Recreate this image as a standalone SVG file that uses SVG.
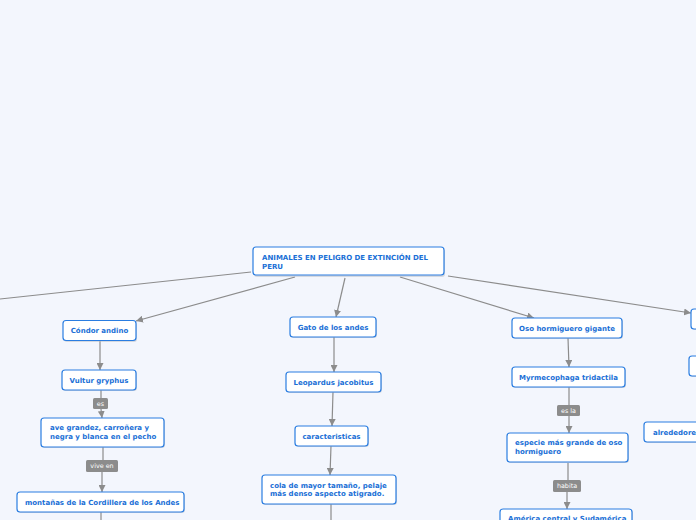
<svg xmlns="http://www.w3.org/2000/svg" width="696" height="520" viewBox="0 0 696 520">
<defs>
<style>
.bg{fill:#f3f6fd}
.n{fill:#fff;stroke:#2a7de1;stroke-width:1.2}
.sh{fill:#b8bcc4;opacity:0.5}
.t{font-family:"DejaVu Sans",Verdana,sans-serif;font-weight:bold;font-size:7px;fill:#1a6fd6}
.tc{text-anchor:middle}
.c{stroke:#8c8c8c;stroke-width:1.2;fill:none}
.ca{stroke:#8c8c8c;stroke-width:1.2;fill:none;marker-end:url(#ah)}
.lb{fill:#8c8c8c}
.lt{font-family:"DejaVu Sans",Verdana,sans-serif;font-size:6.4px;fill:#fff;text-anchor:middle}
</style>
<marker id="ah" viewBox="0 0 10 10" refX="10" refY="5" markerWidth="7" markerHeight="7" markerUnits="userSpaceOnUse" orient="auto">
<path d="M0,0 L10,5 L0,10 z" fill="#8c8c8c"/>
</marker>
</defs>
<rect class="bg" x="0" y="0" width="696" height="520"/>

<g id="connectors">
<line class="c" x1="251" y1="272" x2="0" y2="299"/>
<line class="ca" x1="295" y1="277" x2="136" y2="321"/>
<line class="ca" x1="345" y1="278" x2="336" y2="317"/>
<line class="ca" x1="400" y1="277" x2="534" y2="318"/>
<line class="ca" x1="448" y1="276" x2="691" y2="313"/>
<line class="ca" x1="100" y1="341" x2="100" y2="370"/>
<line class="c" x1="101" y1="390" x2="101" y2="398"/>
<line class="ca" x1="101" y1="409" x2="102" y2="418"/>
<line class="c" x1="103" y1="447" x2="103" y2="460"/>
<line class="ca" x1="102" y1="472" x2="102" y2="492"/>
<line class="c" x1="101" y1="512" x2="101" y2="520"/>
<line class="ca" x1="334" y1="337" x2="334" y2="372"/>
<line class="ca" x1="333" y1="392" x2="332" y2="426"/>
<line class="ca" x1="331" y1="446" x2="330" y2="475"/>
<line class="c" x1="331" y1="504" x2="331" y2="520"/>
<line class="ca" x1="568" y1="338" x2="569" y2="367"/>
<line class="c" x1="569" y1="387" x2="569" y2="405"/>
<line class="ca" x1="569" y1="416" x2="569" y2="433"/>
<line class="c" x1="568" y1="463" x2="568" y2="480"/>
<line class="ca" x1="567" y1="492" x2="567" y2="509"/>
</g>

<g id="lbl-es"><rect class="lb" x="93" y="398" width="15" height="11" rx="1.5"/><text class="lt" x="100.5" y="405.8">es</text></g>
<g id="lbl-viveen"><rect class="lb" x="86" y="460" width="32" height="12" rx="1.5"/><text class="lt" x="102" y="468.3">vive en</text></g>
<g id="lbl-esla"><rect class="lb" x="557" y="405" width="23" height="11" rx="1.5"/><text class="lt" x="568.5" y="412.8">es la</text></g>
<g id="lbl-habita"><rect class="lb" x="553" y="480" width="28" height="12" rx="1.5"/><text class="lt" x="567" y="488.3">habita</text></g>

<g id="root">
<rect class="sh" x="254" y="249" width="191" height="28" rx="3"/>
<rect class="n" x="253" y="247" width="191" height="28" rx="3"/>
<text class="t" x="262" y="260">ANIMALES EN PELIGRO DE EXTINCIÓN DEL</text>
<text class="t" x="262" y="268.5">PERU</text>
</g>

<g id="condor">
<rect class="sh" x="64" y="322" width="73" height="20" rx="3"/>
<rect class="n" x="63" y="320.5" width="73" height="20" rx="3"/>
<text class="t tc" x="99.5" y="333">Cóndor andino</text>
</g>
<g id="vultur">
<rect class="sh" x="63" y="371" width="74" height="20" rx="3"/>
<rect class="n" x="62" y="370" width="74" height="20" rx="3"/>
<text class="t tc" x="99" y="382.5">Vultur gryphus</text>
</g>
<g id="ave">
<rect class="sh" x="42" y="419" width="123" height="29" rx="3"/>
<rect class="n" x="41" y="418" width="123" height="29" rx="3"/>
<text class="t" x="50" y="430">ave grandez, carroñera y</text>
<text class="t" x="50" y="438.5">negra y blanca en el pecho</text>
</g>
<g id="montanas">
<rect class="sh" x="18" y="493" width="167" height="20" rx="3"/>
<rect class="n" x="17" y="492" width="167" height="20" rx="3"/>
<text class="t" x="25" y="504.5">montañas de la Cordillera de los Andes</text>
</g>

<g id="gato">
<rect class="sh" x="291" y="318" width="86" height="20" rx="3"/>
<rect class="n" x="290" y="317" width="86" height="20" rx="3"/>
<text class="t tc" x="333" y="329.5">Gato de los andes</text>
</g>
<g id="leopardus">
<rect class="sh" x="287" y="373" width="95" height="20" rx="3"/>
<rect class="n" x="286" y="372" width="95" height="20" rx="3"/>
<text class="t tc" x="333.5" y="384.5">Leopardus jacobitus</text>
</g>
<g id="caracteristicas">
<rect class="sh" x="296" y="427" width="73" height="20" rx="3"/>
<rect class="n" x="295" y="426" width="73" height="20" rx="3"/>
<text class="t tc" x="331.5" y="438.5">caracteristicas</text>
</g>
<g id="cola">
<rect class="sh" x="263" y="476" width="134" height="29" rx="3"/>
<rect class="n" x="262" y="475" width="134" height="29" rx="3"/>
<text class="t" x="270" y="487.5">cola de mayor tamaño, pelaje</text>
<text class="t" x="270" y="496">más denso aspecto atigrado.</text>
</g>

<g id="oso">
<rect class="sh" x="513" y="319" width="110" height="20" rx="3"/>
<rect class="n" x="512" y="318" width="110" height="20" rx="3"/>
<text class="t tc" x="567" y="330.5">Oso hormiguero gigante</text>
</g>
<g id="myrmecophaga">
<rect class="sh" x="513" y="368" width="113" height="20" rx="3"/>
<rect class="n" x="512" y="367" width="113" height="20" rx="3"/>
<text class="t tc" x="568.5" y="379.5">Myrmecophaga tridactila</text>
</g>
<g id="especie">
<rect class="sh" x="508" y="434" width="121" height="29" rx="3"/>
<rect class="n" x="507" y="433" width="121" height="29" rx="3"/>
<text class="t" x="515" y="445">especie más grande de oso</text>
<text class="t" x="515" y="454">hormiguero</text>
</g>
<g id="america">
<rect class="sh" x="501" y="510" width="132" height="20" rx="3"/>
<rect class="n" x="500" y="509" width="132" height="20" rx="3"/>
<text class="t" x="508" y="520.5">América central y Sudamérica</text>
</g>

<g id="right1">
<rect class="sh" x="692" y="310" width="30" height="20" rx="3"/>
<rect class="n" x="691" y="309" width="30" height="20" rx="3"/>
</g>
<g id="right2">
<rect class="sh" x="690" y="357" width="30" height="20" rx="3"/>
<rect class="n" x="689" y="356" width="30" height="20" rx="3"/>
</g>
<g id="alrededores">
<rect class="sh" x="645" y="423" width="80" height="20" rx="3"/>
<rect class="n" x="644" y="422" width="80" height="20" rx="3"/>
<text class="t" x="653" y="434.5">alrededores</text>
</g>
</svg>
